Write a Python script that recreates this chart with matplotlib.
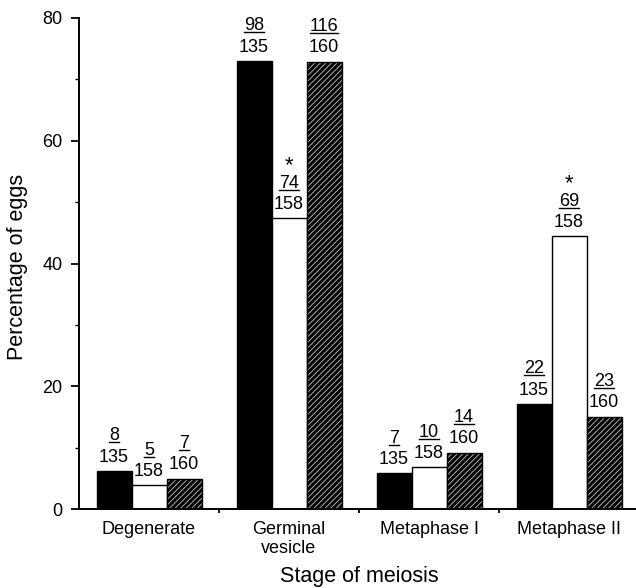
import matplotlib
matplotlib.use("Agg")
import matplotlib.pyplot as plt
import numpy as np

plt.rcParams['font.family'] = ['Liberation Sans', 'DejaVu Sans']
plt.rcParams['hatch.linewidth'] = 0.6

# donnees
stages = ["Degenerate", "Germinal\nvesicle", "Metaphase I", "Metaphase II"]
black_vals = [6.2, 73.0, 5.8, 17.1]
white_vals = [3.9, 47.4, 6.8, 44.4]
hatch_vals = [4.9, 72.9, 9.2, 15.0]
black_num = ["8", "98", "7", "22"]
white_num = ["5", "74", "10", "69"]
hatch_num = ["7", "116", "14", "23"]
black_den = ["135", "135", "135", "135"]
white_den = ["158", "158", "158", "158"]
hatch_den = ["160", "160", "160", "160"]
white_star = [False, True, False, True]

fs = 13
fig = plt.figure(figsize=(6.36, 5.88), dpi=100)
ax = fig.add_axes([79/636, 79/588, 560/636, 491/588])

centers = np.arange(4) + 0.5
w = 0.25
ax.bar(centers - w, black_vals, w, color="black", edgecolor="black", linewidth=1)
ax.bar(centers, white_vals, w, color="white", edgecolor="black", linewidth=1)
ax.bar(centers + w, hatch_vals, w, color="black", edgecolor="#c8c8c8",
       hatch="//////", linewidth=0)
ax.bar(centers + w, hatch_vals, w, fill=False, edgecolor="black", linewidth=1)

ax.set_xlim(0, 4)
ax.set_ylim(0, 80)

ax.spines['top'].set_visible(False)
ax.spines['right'].set_visible(False)
ax.spines['left'].set_linewidth(1.4)
ax.spines['bottom'].set_linewidth(1.4)

ax.set_yticks([0, 20, 40, 60, 80])
ax.set_yticks([10, 30, 50, 70], minor=True)
ax.tick_params(axis='y', which='major', length=6, width=1.3, pad=6, labelsize=fs)
ax.tick_params(axis='y', which='minor', length=3, width=1.0)

ax.set_xticks(centers)
ax.set_xticklabels(stages, fontsize=fs, linespacing=1.12)
ax.set_xticks([1, 2, 3], minor=True)
ax.tick_params(axis='x', which='major', length=0, pad=9)
ax.tick_params(axis='x', which='minor', length=3, width=1.3)

ax.set_ylabel("Percentage of eggs", fontsize=15.5)
ax.yaxis.set_label_coords(-0.091, 0.4935)
ax.set_xlabel("Stage of meiosis", fontsize=15.5)
ax.xaxis.set_label_coords(0.5, -0.117)

# etiquettes fraction
nums = []
for xs, vals, num, den, stars in [
        (centers - w, black_vals, black_num, black_den, [False]*4),
        (centers, white_vals, white_num, white_den, white_star),
        (centers + w, hatch_vals, hatch_num, hatch_den, [False]*4)]:
    for x, v, n, d, s in zip(xs, vals, num, den, stars):
        ax.annotate(d, (x, v), xytext=(0, 6.8), textcoords="offset points",
                    ha="center", va="baseline", fontsize=fs)
        t = ax.annotate(n, (x, v), xytext=(0, 22), textcoords="offset points",
                        ha="center", va="baseline", fontsize=fs)
        nums.append((t, x, v))
        if s:
            ax.annotate("*", (x, v), xytext=(0, 34), textcoords="offset points",
                        ha="center", va="baseline", fontsize=16)

fig.canvas.draw()
r = fig.canvas.get_renderer()
inv = ax.transData.inverted()
for t, x, v in nums:
    bb = t.get_window_extent(r)
    base = ax.transData.transform((x, v))[1] + 22 * fig.dpi / 72
    yl = base - 2
    p0 = inv.transform((bb.x0, yl))
    p1 = inv.transform((bb.x1, yl))
    ax.plot([p0[0], p1[0]], [p0[1], p1[1]], color="black", lw=1.0, clip_on=False)

fig.savefig("out.png", dpi=100)
